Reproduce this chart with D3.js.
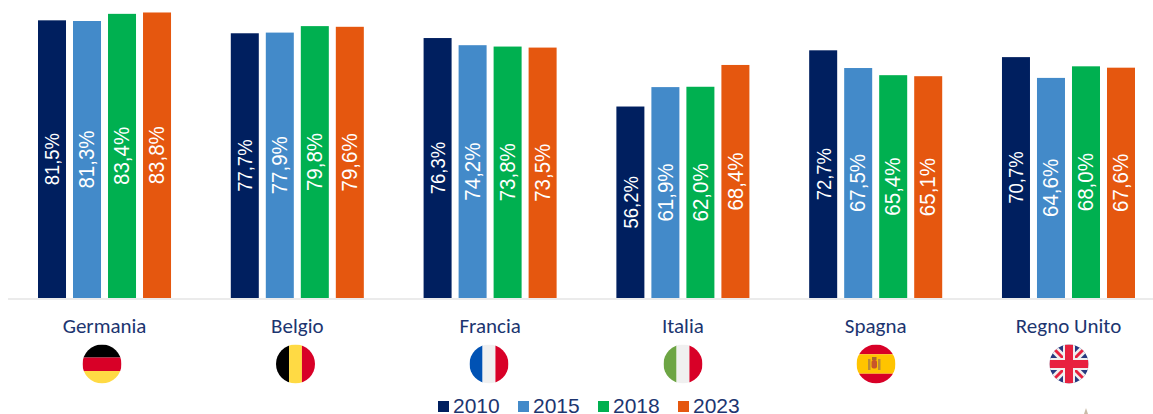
<!DOCTYPE html>
<html>
<head>
<meta charset="utf-8">
<script src="https://cdn.jsdelivr.net/npm/d3@7"></script>
<style>
  html, body { margin: 0; padding: 0; background: #fff; overflow: hidden; }
</style>
</head>
<body>
<div id="chart"></div>
<script>
// Chart data
const countries = ["Germania", "Belgio", "Francia", "Italia", "Spagna", "Regno Unito"];
const years = ["2010", "2015", "2018", "2023"];
const values2010 = [81.5, 77.7, 76.3, 56.2, 72.7, 70.7];
const values2015 = [81.3, 77.9, 74.2, 61.9, 67.5, 64.6];
const values2018 = [83.4, 79.8, 73.8, 62.0, 65.4, 68.0];
const values2023 = [83.8, 79.6, 73.5, 68.4, 65.1, 67.6];
const seriesValues = [values2010, values2015, values2018, values2023];

const width = 1153;
const height = 414;
const baseline = 298;
const colors = ["#001f5f", "#438ac9", "#00b050", "#e5570f"];
const textColor = "#1c3570";

const svg = d3.select("#chart")
    .append("svg")
    .attr("width", width)
    .attr("height", height)
    .style("display", "block");

// Scales
const x0 = d3.scaleBand()
    .domain(countries)
    .range([38, 1135])
    .paddingInner(0.31);

const x1 = d3.scaleBand()
    .domain(years)
    .range([0, x0.bandwidth()])
    .paddingInner(0.2);

const y = d3.scaleLinear()
    .domain([0, 85])
    .range([baseline, 8.4]);

const color = d3.scaleOrdinal().domain(years).range(colors);

const labelFormat = v => v.toFixed(1).replace(".", ",") + "%";

// One record per bar
const bars = [];
countries.forEach((country, i) => {
    years.forEach((year, j) => {
        bars.push({ country, year, value: seriesValues[j][i] });
    });
});

// Bars
svg.selectAll("rect.bar")
    .data(bars)
    .enter()
    .append("rect")
    .attr("class", "bar")
    .attr("x", d => x0(d.country) + x1(d.year))
    .attr("y", d => y(d.value))
    .attr("width", x1.bandwidth())
    .attr("height", d => baseline - y(d.value))
    .attr("fill", d => color(d.year));

// Value labels, rotated and centred in the bar (the original text is a bit squeezed along its length)
svg.selectAll("text.value")
    .data(bars)
    .enter()
    .append("text")
    .attr("class", "value")
    .attr("transform", d => {
        const cx = x0(d.country) + x1(d.year) + x1.bandwidth() / 2;
        const cy = (y(d.value) + baseline) / 2;
        const squeeze = d.year === "2010" ? 0.88 : 0.92;
        return `translate(${cx},${cy}) rotate(-90) scale(${squeeze},1)`;
    })
    .attr("text-anchor", "middle")
    .attr("dominant-baseline", "central")
    .attr("fill", "#fff")
    .style("font-family", "'Liberation Sans', Arial, sans-serif")
    .style("font-size", d => d.year === "2010" ? "21px" : "22.3px")
    .text(d => labelFormat(d.value));

// Baseline
svg.append("line")
    .attr("x1", 8)
    .attr("x2", width)
    .attr("y1", baseline + 1)
    .attr("y2", baseline + 1)
    .attr("stroke", "#e4e4e4")
    .attr("stroke-width", 1.5);

// Category labels
const axis = svg.append("g")
    .attr("transform", `translate(0,${baseline})`)
    .call(d3.axisBottom(x0).tickSize(0));
axis.select(".domain").remove();
axis.selectAll("text")
    .attr("y", 35)
    .attr("dy", 0)
    .attr("fill", textColor)
    .style("font-family", "Carlito, Lato, 'Open Sans', sans-serif")
    .style("font-size", "21px");

// Flags
const flagX = [102, 295.5, 489, 683, 876, 1069];
const flagY = 364;
const flagR = 19.5;

const defs = svg.append("defs");
defs.append("clipPath")
    .attr("id", "flag-clip")
    .append("circle")
    .attr("r", flagR);

const stripes = (g, dir, list) => {
    // list: [start, end, fill] in flag radius units
    list.forEach(([a, b, fill]) => {
        const r = flagR;
        if (dir === "h") {
            g.append("rect").attr("x", -r).attr("width", 2 * r).attr("y", a * r).attr("height", (b - a) * r).attr("fill", fill);
        } else {
            g.append("rect").attr("y", -r).attr("height", 2 * r).attr("x", a * r).attr("width", (b - a) * r).attr("fill", fill);
        }
    });
};

const drawFlag = {
    "Germania": g => stripes(g, "h", [[-1, -0.33, "#000"], [-0.33, 0.36, "#d80027"], [0.36, 1, "#ffda44"]]),
    "Belgio": g => stripes(g, "v", [[-1, -0.33, "#000"], [-0.33, 0.33, "#ffda44"], [0.33, 1, "#d80027"]]),
    "Francia": g => stripes(g, "v", [[-1, -0.33, "#0052b4"], [-0.33, 0.33, "#f0f0f0"], [0.33, 1, "#d80027"]]),
    "Italia": g => stripes(g, "v", [[-1, -0.33, "#6da544"], [-0.33, 0.33, "#f0f0f0"], [0.33, 1, "#d80027"]]),
    "Spagna": g => {
        stripes(g, "h", [[-1, -0.5, "#d80027"], [-0.5, 0.5, "#ffc400"], [0.5, 1, "#d80027"]]);
        // small coat of arms
        g.append("rect").attr("x", -8).attr("y", -5).attr("width", 2.5).attr("height", 11).attr("fill", "#b98a3a");
        g.append("rect").attr("x", 2).attr("y", -5).attr("width", 2.5).attr("height", 11).attr("fill", "#b98a3a");
        g.append("rect").attr("x", -4.5).attr("y", -4).attr("width", 5.5).attr("height", 8.5).attr("rx", 2).attr("fill", "#c8552a");
        g.append("rect").attr("x", -4).attr("y", -7).attr("width", 4.5).attr("height", 3).attr("fill", "#a8692c");
    },
    "Regno Unito": g => {
        const r = flagR;
        g.append("rect").attr("x", -r).attr("y", -r).attr("width", 2 * r).attr("height", 2 * r).attr("fill", "#27397f");
        const diagonals = [[-r, -r, r, r], [-r, r, r, -r]];
        diagonals.forEach(([a, b, c, d]) => {
            g.append("line").attr("x1", a).attr("y1", b).attr("x2", c).attr("y2", d).attr("stroke", "#f0f0f0").attr("stroke-width", 8);
        });
        diagonals.forEach(([a, b, c, d]) => {
            g.append("line").attr("x1", a).attr("y1", b).attr("x2", c).attr("y2", d).attr("stroke", "#e8213f").attr("stroke-width", 3);
        });
        g.append("rect").attr("x", -r).attr("y", -6).attr("width", 2 * r).attr("height", 12).attr("fill", "#f0f0f0");
        g.append("rect").attr("x", -6).attr("y", -r).attr("width", 12).attr("height", 2 * r).attr("fill", "#f0f0f0");
        g.append("rect").attr("x", -r).attr("y", -4).attr("width", 2 * r).attr("height", 8).attr("fill", "#e8213f");
        g.append("rect").attr("x", -4).attr("y", -r).attr("width", 8).attr("height", 2 * r).attr("fill", "#e8213f");
    }
};

countries.forEach((country, i) => {
    const g = svg.append("g")
        .attr("transform", `translate(${flagX[i]},${flagY})`)
        .attr("clip-path", "url(#flag-clip)");
    drawFlag[country](g);
});

// Legend
const legend = svg.selectAll("g.legend")
    .data(years)
    .enter()
    .append("g")
    .attr("class", "legend")
    .attr("transform", (d, i) => `translate(${438 + i * 80},0)`);

legend.append("rect")
    .attr("y", 401)
    .attr("width", 11)
    .attr("height", 11)
    .attr("fill", d => color(d));

legend.append("text")
    .attr("x", 15)
    .attr("y", 413)
    .attr("fill", textColor)
    .style("font-family", "'Liberation Sans', Arial, sans-serif")
    .style("font-size", "21px")
    .text(d => d);

// Faint mark cut off at the bottom edge
svg.append("path")
    .attr("d", d3.line()([[1084, 414], [1086, 408], [1088, 414]]))
    .attr("fill", "#c9bba8");
</script>
</body>
</html>
